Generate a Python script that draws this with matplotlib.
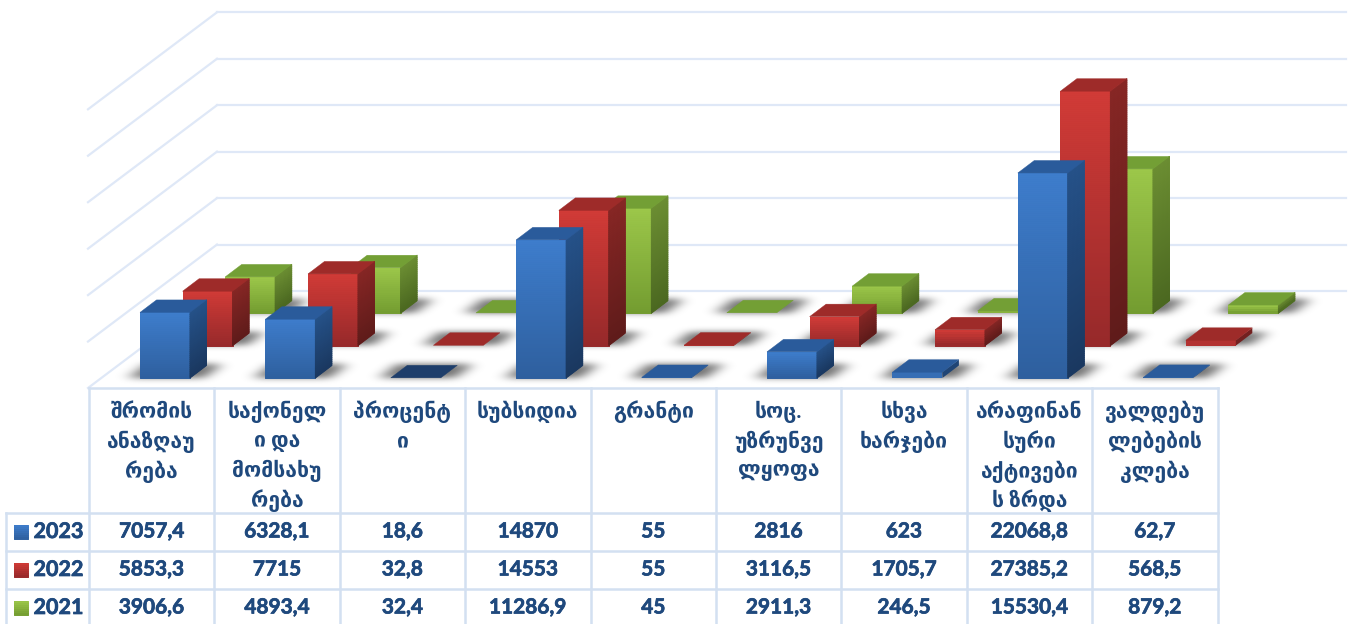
import numpy as np
import matplotlib
matplotlib.use("Agg")
import matplotlib.pyplot as plt
import matplotlib.patheffects as pe
from matplotlib.collections import PolyCollection
from matplotlib.colors import to_rgb

# data
CATEGORIES = [
    ["შრომის", "ანაზღაუ", "რება"],
    ["საქონელ", "ი და", "მომსახუ", "რება"],
    ["პროცენტ", "ი"],
    ["სუბსიდია"],
    ["გრანტი"],
    ["სოც.", "უზრუნვე", "ლყოფა"],
    ["სხვა", "ხარჯები"],
    ["არაფინან", "სური", "აქტივები", "ს ზრდა"],
    ["ვალდებუ", "ლებების", "კლება"],
]
YEARS = ["2023", "2022", "2021"]
VALUES_2023 = [7057.4, 6328.1, 18.6, 14870, 55, 2816, 623, 22068.8, 62.7]
VALUES_2022 = [5853.3, 7715, 32.8, 14553, 55, 3116.5, 1705.7, 27385.2, 568.5]
VALUES_2021 = [3906.6, 4893.4, 32.4, 11286.9, 45, 2911.3, 246.5, 15530.4, 879.2]
SERIES = [VALUES_2023, VALUES_2022, VALUES_2021]
GRID_VALUES = [0, 5000, 10000, 15000, 20000, 25000, 30000]

# colours per series: front top/bottom, side top/bottom, roof
COLORS = [
    ("#3E7DCC", "#2E5F9E", "#265289", "#1A3860", "#2A5B9B"),
    ("#D13B37", "#96292A", "#872725", "#5F1B1A", "#9E2B29"),
    ("#9CC74A", "#739C30", "#6C8E33", "#4B6820", "#739F35"),
]
GRID_COLOR = "#DFE8F7"
TABLE_COLOR = "#D3E0F1"
TEXT_COLOR = "#1F497D"

# layout in pixels
W, H = 1355, 624
CAT_W = 125.4
BAR_W = 50
BAR_X0 = 140
BASE_Y = 378
PX_PER_UNIT = 0.00929
STEP_X, STEP_Y = 42.6, 32.4
SIDE_X, SIDE_Y = 16.5, 12.5
WALL_X, WALL_Y = 217, 291
FRONT_X, FRONT_Y = 88, 388
TAB_X = 89
LEFT_X = 6
HEAD_Y = 388
ROW_YS = [513, 551, 589, 627]

fig = plt.figure(figsize=(W / 100, H / 100), dpi=100)
ax = fig.add_axes([0, 0, 1, 1])
ax.set_xlim(0, W)
ax.set_ylim(H, 0)
ax.axis("off")

z = [10]


def next_z():
    z[0] += 1
    return z[0]


def gradient_face(p_tl, p_tr, p_br, p_bl, c_top, c_bottom):
    # solid base, then thin strips from the top edge down to the bottom edge
    p_tl, p_tr, p_br, p_bl = [np.array(p, dtype=float) for p in (p_tl, p_tr, p_br, p_bl)]
    height = abs(p_bl[1] - p_tl[1])
    c1, c2 = np.array(to_rgb(c_top)), np.array(to_rgb(c_bottom))
    ax.fill(*zip(p_tl, p_tr, p_br, p_bl), fc=(c1 + c2) / 2, ec="none", zorder=next_z())
    if height < 6:
        return
    ts = np.linspace(0, 1, int(height / 2) + 1)
    polys, cols = [], []
    for t0, t1 in zip(ts[:-1], ts[1:]):
        polys.append([p_tl + (p_bl - p_tl) * t0, p_tr + (p_br - p_tr) * t0,
                      p_tr + (p_br - p_tr) * t1, p_tl + (p_bl - p_tl) * t1])
        cols.append(c1 * (1 - (t0 + t1) / 2) + c2 * (t0 + t1) / 2)
    ax.add_collection(PolyCollection(polys, facecolors=cols, edgecolors=cols, linewidths=0.7,
                                     zorder=next_z()), autolim=False)


def bar_corners(i, s, v):
    x = BAR_X0 + CAT_W * i + STEP_X * s
    y = BASE_Y - STEP_Y * s
    return x, y, y - v * PX_PER_UNIT


def blur(mask, sigma, axis):
    r = int(sigma * 3)
    k = np.exp(-0.5 * (np.arange(-r, r + 1) / sigma) ** 2)
    k /= k.sum()
    return sum(w * np.roll(mask, o, axis=axis) for o, w in zip(range(-r, r + 1), k))


# walls
for v in GRID_VALUES:
    y = WALL_Y - v * PX_PER_UNIT
    ax.plot([WALL_X, TAB_X + 9 * CAT_W + WALL_X - FRONT_X - 1], [y, y], color=GRID_COLOR, lw=1.6, zorder=1)
    ax.plot([WALL_X, FRONT_X], [y, y + FRONT_Y - WALL_Y], color=GRID_COLOR, lw=1.6, zorder=1)

# floor shadows
yy, xx = np.mgrid[0:H, 0:W]
mask = np.zeros((H, W))
for s, vals in enumerate(SERIES):
    for i in range(len(vals)):
        x, y, _ = bar_corners(i, s, vals[i])
        t = np.clip((y - yy) / SIDE_Y, 0, 1)
        inside = (yy <= y - 1) & (yy >= y - SIDE_Y - 2)
        inside &= (xx >= x - 13 + t * SIDE_X) & (xx <= x + BAR_W + 13 + t * SIDE_X)
        mask[inside] = 1
shadow = blur(blur(mask, 7, 1), 3, 0)
rgba = np.zeros((H, W, 4))
rgba[..., 3] = 0.55 * shadow
ax.imshow(rgba, extent=(0, W, H, 0), aspect="auto", zorder=2)

# bars, back row first
for s in [2, 1, 0]:
    front_t, front_b, side_t, side_b, roof = COLORS[s]
    for i, v in enumerate(SERIES[s]):
        x, y, top = bar_corners(i, s, v)
        x2 = x + BAR_W
        if y - top > 0.5:
            gradient_face((x, top), (x2, top), (x2, y), (x, y), front_t, front_b)
            gradient_face((x2, top), (x2 + SIDE_X, top - SIDE_Y), (x2 + SIDE_X, y - SIDE_Y), (x2, y),
                          side_t, side_b)
        col = "#1E3E6B" if s == 0 and i == 2 else roof
        ax.fill([x, x + SIDE_X, x2 + SIDE_X, x2], [top, top - SIDE_Y, top - SIDE_Y, top],
                fc=col, ec=col, lw=0.3, zorder=next_z())

# table
tab_right = TAB_X + 9 * CAT_W
lw = 1.8
ax.plot([TAB_X, tab_right], [HEAD_Y, HEAD_Y], color=TABLE_COLOR, lw=lw, zorder=5000)
for r in ROW_YS[:3]:
    ax.plot([LEFT_X, tab_right], [r, r], color=TABLE_COLOR, lw=lw, zorder=5000)
for c in range(10):
    cx = TAB_X + c * CAT_W
    ax.plot([cx, cx], [HEAD_Y, H], color=TABLE_COLOR, lw=lw, zorder=5000)
ax.plot([LEFT_X, LEFT_X], [ROW_YS[0], H], color=TABLE_COLOR, lw=lw, zorder=5000)

fam = ["Lato", "DejaVu Sans"]
heavy = [pe.withStroke(linewidth=0.5, foreground=TEXT_COLOR)]
for c, lines in enumerate(CATEGORIES):
    cx = TAB_X + (c + 0.5) * CAT_W
    for n, line in enumerate(lines):
        ax.text(cx, 412 + n * 29.7, line, ha="center", va="center", family=fam,
                weight="bold", fontsize=15.2, color=TEXT_COLOR, zorder=6000)

for r, vals in enumerate(SERIES):
    cy = (ROW_YS[r] + ROW_YS[r + 1]) / 2 - 0.5
    front_t, front_b = COLORS[r][0], COLORS[r][1]
    gradient_face((14, cy - 7), (28, cy - 7), (28, cy + 7), (14, cy + 7), front_t, front_b)
    ax.text(33.5, cy, YEARS[r], ha="left", va="center", family=fam, weight="bold",
            fontsize=15.5, color=TEXT_COLOR, zorder=6000, path_effects=heavy)
    for c, v in enumerate(vals):
        cx = TAB_X + (c + 0.5) * CAT_W
        ax.text(cx, cy, f"{v:g}".replace(".", ","), ha="center", va="center", family=fam,
                weight="bold", fontsize=15, color=TEXT_COLOR, zorder=6000, path_effects=heavy)

ax.set_xlim(0, W)
ax.set_ylim(H, 0)
fig.savefig("out.png", dpi=100)
